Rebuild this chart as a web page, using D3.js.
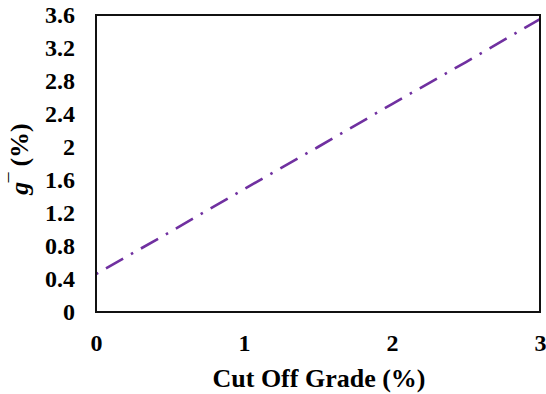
<!DOCTYPE html>
<html>
<head>
<meta charset="utf-8">
<script src="https://cdn.jsdelivr.net/npm/d3@7"></script>
<style>
  html, body { margin: 0; padding: 0; background: #fff; }
  svg { display: block; }
</style>
</head>
<body>
<script>
// Average grade above cut-off vs. cut-off grade
const cutOff = [0, 0.5, 1, 1.5, 2, 2.5, 3];
const avgGrade = [0.46, 0.97, 1.49, 2.0, 2.52, 3.03, 3.55];
const xTicks = [0, 1, 2, 3];
const yTicks = [0, 0.4, 0.8, 1.2, 1.6, 2, 2.4, 2.8, 3.2, 3.6];

const W = 546, H = 394;
const m = { left: 96, right: 6, top: 15, bottom: 82 };
const SERIF = "Liberation Serif";

const svg = d3.select("body").append("svg")
  .attr("width", W).attr("height", H);

const x = d3.scaleLinear().domain([0, 3]).range([m.left, W - m.right]);
const y = d3.scaleLinear().domain([0, 3.6]).range([H - m.bottom, m.top]);

function styleAxis(g) {
  g.attr("font-family", SERIF).attr("font-size", 24).attr("font-weight", "bold");
  g.select(".domain").remove();
  g.selectAll("text").attr("fill", "#000");
}

// Tick labels only (no tick marks, no domain line)
svg.append("g")
  .attr("transform", `translate(0,${H - m.bottom})`)
  .call(d3.axisBottom(x).tickValues(xTicks).tickFormat(d3.format("")).tickSize(0).tickPadding(22))
  .call(styleAxis);

svg.append("g")
  .attr("transform", `translate(${m.left},0)`)
  .call(d3.axisLeft(y).tickValues(yTicks).tickFormat(d3.format("")).tickSize(0).tickPadding(21))
  .call(styleAxis);

// Data line
const line = d3.line().x((d, i) => x(cutOff[i])).y(d => y(d));
svg.append("path")
  .datum(avgGrade)
  .attr("d", line)
  .attr("fill", "none")
  .attr("stroke", "#7030A0")
  .attr("stroke-width", 2.6)
  .attr("stroke-dasharray", "19.7,9,2.5,9")
  .attr("stroke-dashoffset", 28.7);

// Plot frame
svg.append("rect")
  .attr("x", x(0)).attr("y", y(3.6))
  .attr("width", x(3) - x(0)).attr("height", y(0) - y(3.6))
  .attr("fill", "none").attr("stroke", "#111").attr("stroke-width", 2);

// Axis titles
svg.append("text")
  .attr("x", (x(0) + x(3)) / 2 + 1).attr("y", 387)
  .attr("text-anchor", "middle").attr("font-size", 26)
  .attr("font-family", SERIF).attr("font-weight", "bold")
  .text("Cut Off Grade (%)");

const yt = svg.append("text")
  .attr("transform", `translate(28,${159}) rotate(-90)`)
  .attr("text-anchor", "middle").attr("font-size", 26)
  .attr("font-family", SERIF).attr("font-weight", "bold");
yt.append("tspan").attr("font-style", "italic").text("g");
yt.append("tspan").text("\u203E (%)");
</script>
</body>
</html>
